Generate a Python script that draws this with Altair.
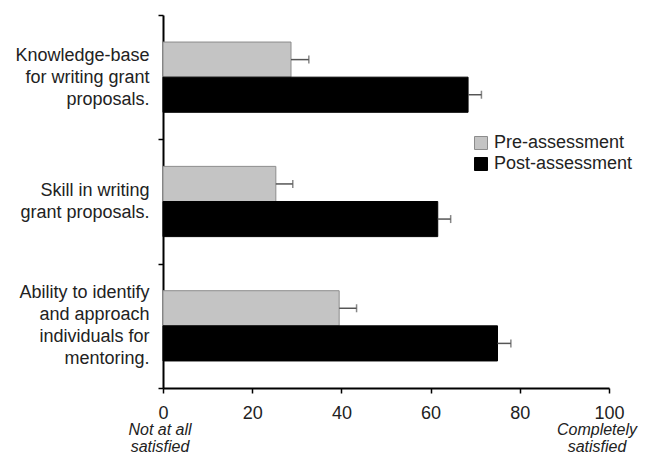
import altair as alt
import pandas as pd

categories = [
    "Knowledge-base|for writing grant|proposals.",
    "Skill in writing|grant proposals.",
    "Ability to identify|and approach|individuals for|mentoring.",
]
series = ["Pre-assessment", "Post-assessment"]
pre_values = [28.7, 25.3, 39.5]
pre_errors = [4.0, 3.8, 3.9]
post_values = [68.4, 61.6, 75.0]
post_errors = [3.0, 2.9, 3.0]
x_ticks = [0, 20, 40, 60, 80, 100]
note_left_x = [0]
note_left = ["Not at all\nsatisfied"]
note_right_x = [100]
note_right = ["Completely\nsatisfied"]

rows = []
for c, pv, pe, qv, qe in zip(categories, pre_values, pre_errors, post_values, post_errors):
    rows.append(dict(cat=c, series=series[0], value=pv, hi=pv + pe))
    rows.append(dict(cat=c, series=series[1], value=qv, hi=qv + qe))
df = pd.DataFrame(rows)
left_df = pd.DataFrame({"nx": note_left_x, "note": note_left})
right_df = pd.DataFrame({"nx": note_right_x, "note": note_right})

FONT = "Liberation Sans"
TXT = "#222222"
LH = 22

y = alt.Y(
    "cat:N",
    sort=categories,
    title=None,
    scale=alt.Scale(paddingInner=0, paddingOuter=0),
    axis=alt.Axis(
        labelExpr="split(datum.label, '|')",
        tickBand="extent",
        labelAlign="right",
        labelBaseline="middle",
        labelLineHeight=LH,
        labelOffset=alt.ExprRef(expr=f"-(length(split(datum.label, '|')) - 1) * {LH / 2}"),
        labelPadding=9,
        labelFont=FONT,
        labelFontSize=18,
        labelColor=TXT,
        tickSize=5,
        tickWidth=1.5,
        tickColor="black",
        domainColor="black",
        domainWidth=2,
        labelLimit=300,
    ),
)
yoff = alt.YOffset("series:N", sort=series, scale=alt.Scale(paddingInner=0, paddingOuter=0.77))
x = alt.X(
    "value:Q",
    title=None,
    scale=alt.Scale(domain=[0, 100], nice=False),
    axis=alt.Axis(
        values=x_ticks,
        grid=False,
        labelFlush=False,
        labelOverlap=False,
        labelPadding=11,
        labelFont=FONT,
        labelFontSize=18,
        labelColor=TXT,
        tickSize=5,
        tickWidth=1.5,
        tickColor="black",
        domainColor="black",
        domainWidth=2,
    ),
)

bars = alt.Chart(df).mark_bar(strokeWidth=1).encode(
    x=x,
    y=y,
    yOffset=yoff,
    color=alt.Color(
        "series:N",
        sort=series,
        scale=alt.Scale(domain=series, range=["#c4c4c4", "#000000"]),
        legend=alt.Legend(
            title=None,
            orient="none",
            legendX=309,
            legendY=119,
            padding=0,
            symbolType="square",
            symbolSize=169,
            symbolStrokeWidth=1,
            labelFont=FONT,
            labelFontSize=18,
            labelColor=TXT,
            labelOffset=4,
            rowPadding=3,
        ),
    ),
    stroke=alt.Stroke(
        "series:N",
        sort=series,
        scale=alt.Scale(domain=series, range=["#8c8c8c", "#000000"]),
        legend=None,
    ),
)

err_rule = alt.Chart(df).mark_rule(color="#555555", strokeWidth=1.5).encode(
    x="value:Q", x2="hi:Q", y=y, yOffset=yoff
)
err_cap = alt.Chart(df).mark_tick(color="#555555", thickness=1.5, size=8, orient="vertical").encode(
    x="hi:Q", y=y, yOffset=yoff
)
note_style = dict(
    font=FONT, fontSize=16, fontStyle="italic", lineBreak="\n", baseline="top",
    lineHeight=17, color=TXT, align="center"
)
notes_l = alt.Chart(left_df).mark_text(dx=-3, **note_style).encode(
    x="nx:Q", y=alt.value(407), text="note:N"
)
notes_r = alt.Chart(right_df).mark_text(dx=-12, **note_style).encode(
    x="nx:Q", y=alt.value(407), text="note:N"
)

chart = alt.layer(bars, err_rule, err_cap, notes_l, notes_r).properties(
    width=446,
    height=373,
    autosize=alt.AutoSizeParams(type="none"),
    padding={"left": 155, "top": 7, "right": 30, "bottom": 66},
).configure_view(stroke=None)

chart.save("out.html", embed_options={"renderer": "svg", "actions": False})
